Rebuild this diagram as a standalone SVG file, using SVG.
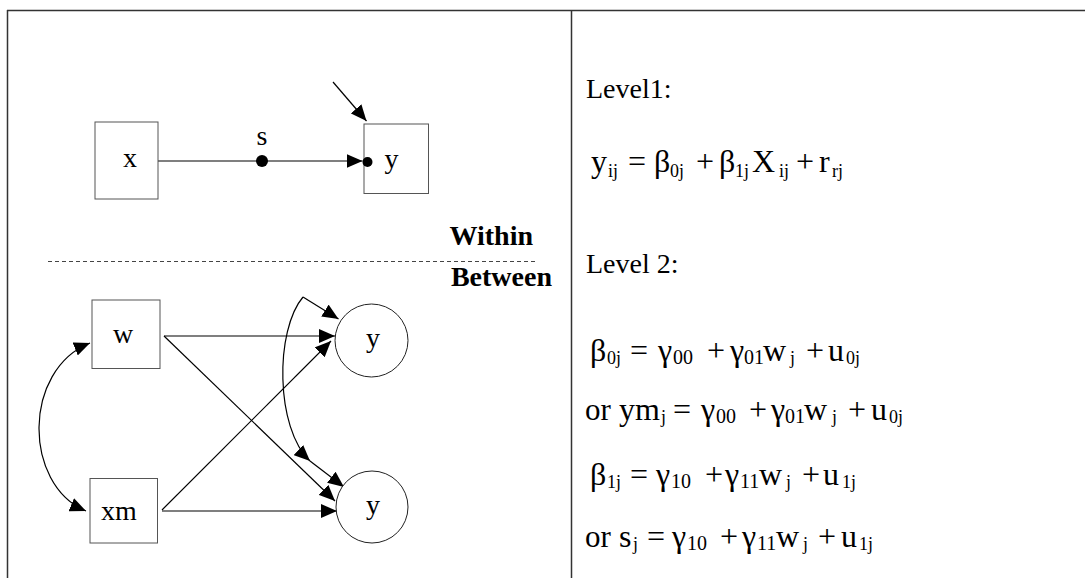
<svg xmlns="http://www.w3.org/2000/svg" width="1085" height="578" viewBox="0 0 1085 578">
<defs>
<marker id="ah" markerUnits="userSpaceOnUse" markerWidth="16" markerHeight="14" refX="16" refY="7" orient="auto-start-reverse" viewBox="0 0 16 14">
<path d="M0,0 L16,7 L0,14 z" fill="#000"/>
</marker>
<style>
.frame{stroke:#333;stroke-width:1.5;fill:none}
.box{fill:#fff;stroke:#555;stroke-width:1}
.ell{fill:#fff;stroke:#222;stroke-width:1}
.c{stroke:#000;stroke-width:1.2;fill:none}
.a{stroke:#000;stroke-width:1.2;fill:none;marker-end:url(#ah)}
.lbl{font-family:"Liberation Serif","Times New Roman",serif;font-size:28px;fill:#000;text-anchor:middle}
.bold{font-family:"Liberation Serif","Times New Roman",serif;font-size:28px;font-weight:bold;fill:#000;text-anchor:end}
.t{font-family:"Liberation Serif","Times New Roman",serif;font-size:28px;fill:#000}
.eq{font-family:"Liberation Serif","Times New Roman",serif;font-size:32px;fill:#000}
.sub{font-size:18px}
.gs{font-size:20px}
.or{font-size:31px}
</style>
</defs>
<g id="frame">
<line class="frame" x1="7" y1="10.5" x2="1085" y2="10.5"/>
<line class="frame" x1="7.5" y1="10" x2="7.5" y2="578"/>
<line class="frame" x1="571.5" y1="10" x2="571.5" y2="578"/>
<line x1="48" y1="261.5" x2="538" y2="261.5" stroke="#444" stroke-width="1" stroke-dasharray="4,3"/>
<text class="bold" x="533" y="245">Within</text>
<text class="bold" x="552" y="286">Between</text>
</g>
<g id="connectors">
<line class="a" x1="158" y1="161" x2="362.5" y2="161"/>
<line class="a" x1="333" y1="82" x2="366.5" y2="121"/>
<line class="a" x1="164" y1="336" x2="335" y2="336"/>
<line class="a" x1="164" y1="336" x2="335" y2="501"/>
<line class="a" x1="162" y1="510" x2="331" y2="341"/>
<line class="a" x1="162" y1="511" x2="337" y2="511"/>
<path class="c" d="M90,343 C22.7,370 22.7,484 86,511" marker-start="url(#ah)" marker-end="url(#ah)"/>
<path class="a" d="M303,297 C275,330 275,428 310,461"/>
<line class="a" x1="303" y1="297" x2="338.5" y2="319"/>
<line class="a" x1="310" y1="461" x2="344" y2="487"/>
<circle cx="262" cy="161" r="6" fill="#000"/>
</g>
<g id="node-x">
<rect class="box" x="95" y="122" width="63" height="77"/>
<text class="lbl" x="130" y="167">x</text>
</g>
<g id="node-s">
<text class="lbl" x="262" y="145">s</text>
</g>
<g id="node-y-within">
<rect class="box" x="364" y="124" width="64.5" height="69.5"/>
<circle cx="367.5" cy="162" r="5" fill="#000"/>
<text class="lbl" x="391.5" y="168">y</text>
</g>
<g id="node-w">
<rect class="box" x="92" y="300" width="68" height="68.5"/>
<text class="lbl" x="123" y="343">w</text>
</g>
<g id="node-xm">
<rect class="box" x="90" y="478.5" width="67.5" height="64.5"/>
<text class="lbl" x="119" y="520">xm</text>
</g>
<g id="node-y-top">
<circle class="ell" cx="371.5" cy="340.5" r="36.5"/>
<text class="lbl" x="373" y="347">y</text>
</g>
<g id="node-y-bottom">
<circle class="ell" cx="372" cy="507" r="36"/>
<text class="lbl" x="373" y="514">y</text>
</g>
<g id="equations">
<text class="t" x="586" y="98">Level1:</text>
<text class="t" x="586" y="273">Level 2:</text>
<text class="eq" y="172"><tspan x="591">y</tspan><tspan class="sub" x="608" dy="5">ij</tspan><tspan x="628" dy="-5">=</tspan><tspan x="654">β</tspan><tspan class="sub" x="670" dy="5">0j</tspan><tspan x="696" dy="-5">+</tspan><tspan x="719">β</tspan><tspan class="sub" x="735" dy="5">1j</tspan><tspan x="752" dy="-5">X</tspan><tspan class="sub" x="779" dy="5">ij</tspan><tspan x="796" dy="-5">+</tspan><tspan x="819">r</tspan><tspan class="sub" x="832" dy="5">rj</tspan></text>
<text class="eq" y="361"><tspan x="590">β</tspan><tspan class="sub" x="607" dy="3">0j</tspan><tspan x="630" dy="-3">=</tspan><tspan x="658">γ</tspan><tspan class="gs" x="673" dy="3">00</tspan><tspan x="707" dy="-3">+</tspan><tspan x="730">γ</tspan><tspan class="gs" x="744" dy="3">01</tspan><tspan x="763" dy="-3">w</tspan><tspan class="sub" x="790" dy="3">j</tspan><tspan x="806" dy="-3">+</tspan><tspan x="828">u</tspan><tspan class="sub" x="846" dy="3">0j</tspan></text>
<text class="eq" y="420"><tspan class="or" x="585">or</tspan><tspan x="619">ym</tspan><tspan class="sub" x="661" dy="3">j</tspan><tspan x="673" dy="-3">=</tspan><tspan x="701">γ</tspan><tspan class="gs" x="716" dy="3">00</tspan><tspan x="749" dy="-3">+</tspan><tspan x="771">γ</tspan><tspan class="gs" x="785" dy="3">01</tspan><tspan x="804" dy="-3">w</tspan><tspan class="sub" x="832" dy="3">j</tspan><tspan x="848" dy="-3">+</tspan><tspan x="871">u</tspan><tspan class="sub" x="889" dy="3">0j</tspan></text>
<text class="eq" y="485"><tspan x="590">β</tspan><tspan class="sub" x="607" dy="3">1j</tspan><tspan x="630" dy="-3">=</tspan><tspan x="656">γ</tspan><tspan class="gs" x="671" dy="3">10</tspan><tspan x="705" dy="-3">+</tspan><tspan x="725">γ</tspan><tspan class="gs" x="740" dy="3">11</tspan><tspan x="759" dy="-3">w</tspan><tspan class="sub" x="786" dy="3">j</tspan><tspan x="802" dy="-3">+</tspan><tspan x="823">u</tspan><tspan class="sub" x="842" dy="3">1j</tspan></text>
<text class="eq" y="547"><tspan class="or" x="585">or</tspan><tspan x="619">s</tspan><tspan class="sub" x="633" dy="3">j</tspan><tspan x="647" dy="-3">=</tspan><tspan x="672">γ</tspan><tspan class="gs" x="687" dy="3">10</tspan><tspan x="720" dy="-3">+</tspan><tspan x="742">γ</tspan><tspan class="gs" x="757" dy="3">11</tspan><tspan x="776" dy="-3">w</tspan><tspan class="sub" x="803" dy="3">j</tspan><tspan x="818" dy="-3">+</tspan><tspan x="841">u</tspan><tspan class="sub" x="859" dy="3">1j</tspan></text>
</g>
</svg>
